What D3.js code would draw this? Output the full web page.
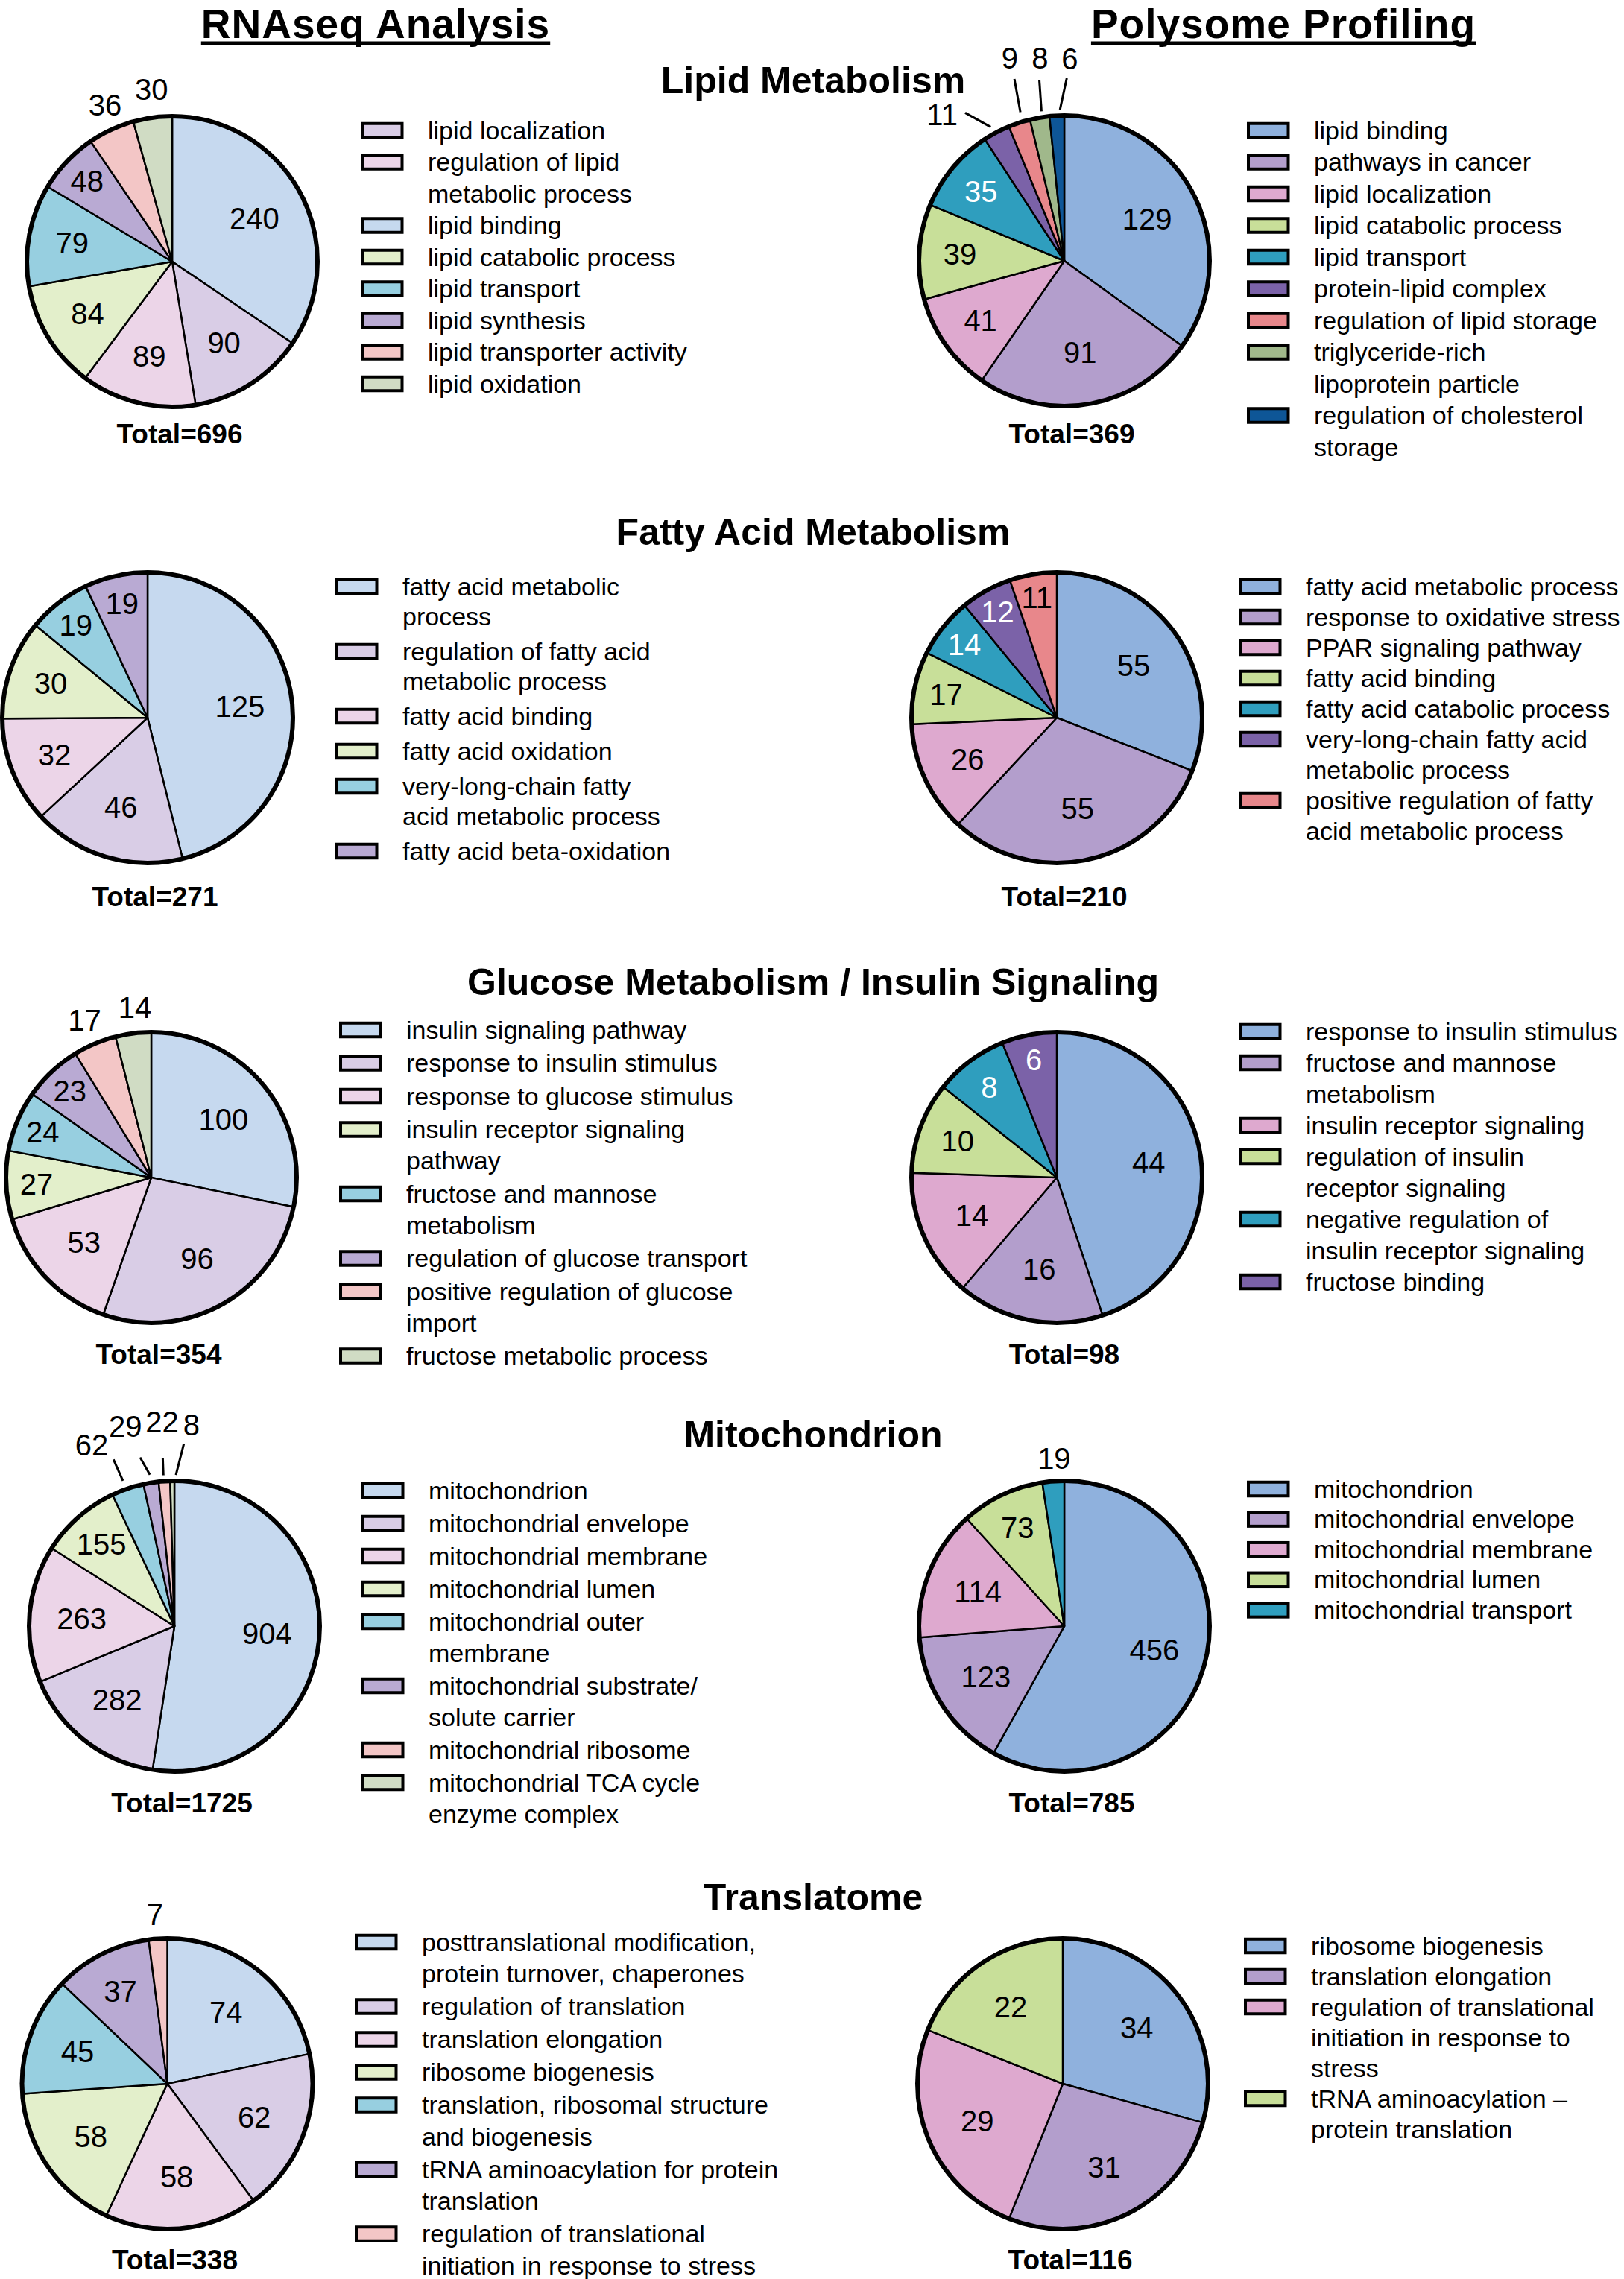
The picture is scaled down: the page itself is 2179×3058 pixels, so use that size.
<!DOCTYPE html>
<html>
<head>
<meta charset="utf-8">
<script src="https://cdn.jsdelivr.net/npm/d3@7"></script>
<style>
  body { margin: 0; background: #fff; }
  svg { display: block; font-family: "Liberation Sans", Arial, Helvetica, sans-serif; }
</style>
</head>
<body>
<svg id="chart" width="2179" height="3058"></svg>
<script>
// ---- data: slices listed clockwise from 12 o'clock ----
const columnTitles = ["RNAseq Analysis", "Polysome Profiling"];
const sectionTitles = ["Lipid Metabolism", "Fatty Acid Metabolism", "Glucose Metabolism / Insulin Signaling", "Mitochondrion", "Translatome"];
const rnaTotals = [696, 271, 354, 1725, 338];
const polyTotals = [369, 210, 98, 785, 116];

const lipidRnaNames = ["lipid binding", "lipid localization", "regulation of lipid\nmetabolic process", "lipid catabolic process", "lipid transport", "lipid synthesis", "lipid transporter activity", "lipid oxidation"];
const lipidRnaValues = [240, 90, 89, 84, 79, 48, 36, 30];
const lipidRnaLegend = ["lipid localization", "regulation of lipid\nmetabolic process", "lipid binding", "lipid catabolic process", "lipid transport", "lipid synthesis", "lipid transporter activity", "lipid oxidation"];

const lipidPolyNames = ["lipid binding", "pathways in cancer", "lipid localization", "lipid catabolic process", "lipid transport", "protein-lipid complex", "regulation of lipid storage", "triglyceride-rich\nlipoprotein particle", "regulation of cholesterol\nstorage"];
const lipidPolyValues = [129, 91, 41, 39, 35, 11, 9, 8, 6];

const fattyRnaNames = ["fatty acid metabolic\nprocess", "regulation of fatty acid\nmetabolic process", "fatty acid binding", "fatty acid oxidation", "very-long-chain fatty\nacid metabolic process", "fatty acid beta-oxidation"];
const fattyRnaValues = [125, 46, 32, 30, 19, 19];

const fattyPolyNames = ["fatty acid metabolic process", "response to oxidative stress", "PPAR signaling pathway", "fatty acid binding", "fatty acid catabolic process", "very-long-chain fatty acid\nmetabolic process", "positive regulation of fatty\nacid metabolic process"];
const fattyPolyValues = [65, 65, 26, 17, 14, 12, 11];            // slice sizes as drawn
const fattyPolyPrinted = ["55", "55", "26", "17", "14", "12", "11"]; // numbers as printed

const glucoseRnaNames = ["insulin signaling pathway", "response to insulin stimulus", "response to glucose stimulus", "insulin receptor signaling\npathway", "fructose and mannose\nmetabolism", "regulation of glucose transport", "positive regulation of glucose\nimport", "fructose metabolic process"];
const glucoseRnaValues = [100, 96, 53, 27, 24, 23, 17, 14];

const glucosePolyNames = ["response to insulin stimulus", "fructose and mannose\nmetabolism", "insulin receptor signaling", "regulation of insulin\nreceptor signaling", "negative regulation of\ninsulin receptor signaling", "fructose binding"];
const glucosePolyValues = [44, 16, 14, 10, 8, 6];

const mitoRnaNames = ["mitochondrion", "mitochondrial envelope", "mitochondrial membrane", "mitochondrial lumen", "mitochondrial outer\nmembrane", "mitochondrial substrate/\nsolute carrier", "mitochondrial ribosome", "mitochondrial TCA cycle\nenzyme complex"];
const mitoRnaValues = [904, 282, 263, 155, 62, 29, 22, 8];

const mitoPolyNames = ["mitochondrion", "mitochondrial envelope", "mitochondrial membrane", "mitochondrial lumen", "mitochondrial transport"];
const mitoPolyValues = [456, 123, 114, 73, 19];

const translRnaNames = ["posttranslational modification,\nprotein turnover, chaperones", "regulation of translation", "translation elongation", "ribosome biogenesis", "translation, ribosomal structure\nand biogenesis", "tRNA aminoacylation for protein\ntranslation", "regulation of translational\ninitiation in response to stress"];
const translRnaValues = [74, 62, 58, 58, 45, 37, 7];

const translPolyNames = ["ribosome biogenesis", "translation elongation", "regulation of translational\ninitiation in response to\nstress", "tRNA aminoacylation –\nprotein translation"];
const translPolyValues = [34, 31, 29, 22];

// ---- styling / layout ----
const rnaPalette = ["#c6d9ef", "#d9cde6", "#ecd5e8", "#e3efcb", "#97cfe0", "#b9aad3", "#f3c6c6", "#d0dcc4"];
const polyPalette = ["#8fb1dd", "#b39ecc", "#dea9cf", "#c8df99", "#2f9ebe", "#7b62a8", "#e8878b", "#a0b88b", "#0e5697"];
const darkFills = new Set(["#2f9ebe", "#7b62a8", "#0e5697"]);

const W = 2179, H = 3058, R = 195;
const rowY = [351, 963, 1580, 2182, 2796];
const titleY = [125, 731, 1335, 1942, 2563];

const panels = [
  { names: lipidRnaNames, values: lipidRnaValues, legend: lipidRnaLegend, total: rnaTotals[0], palette: rnaPalette,
    cx: 231, cy: rowY[0], legX: 484, legY: 175, lineH: 42.5, gap: 0, totalY: 595,
    outside: [{ i: 6, ta: 1.7, td: 34 }, { i: 7, ta: 0.9, td: 38 }] },
  { names: lipidPolyNames, values: lipidPolyValues, total: polyTotals[0], palette: polyPalette,
    cx: 1428, cy: 350, legX: 1673, legY: 175, lineH: 42.5, gap: 0, totalY: 595,
    outside: [
      { i: 5, ta: -12, td: 61, line: [-1, 10, -6, 44] },
      { i: 6, ta: 3, td: 87, line: [1.6, 13, 2.7, 58] },
      { i: 7, ta: 2.9, td: 79, line: [1.1, 8, 1.9, 50] },
      { i: 8, ta: 4.5, td: 77, line: [1.3, 8, 3.7, 50] }] },
  { names: fattyRnaNames, values: fattyRnaValues, total: rnaTotals[1], palette: rnaPalette,
    cx: 198, cy: rowY[1], legX: 450, legY: 787, lineH: 40, gap: 7, totalY: 1216, outside: [] },
  { names: fattyPolyNames, values: fattyPolyValues, printed: fattyPolyPrinted, total: polyTotals[1], palette: polyPalette,
    cx: 1418, cy: rowY[1], legX: 1662, legY: 787, lineH: 41, gap: 0, totalY: 1216, outside: [] },
  { names: glucoseRnaNames, values: glucoseRnaValues, total: rnaTotals[2], palette: rnaPalette,
    cx: 203, cy: rowY[2], legX: 455, legY: 1382, lineH: 42, gap: 2.5, totalY: 1830,
    outside: [{ i: 6, ta: 0, td: 35 }, { i: 7, ta: 1.6, td: 34 }] },
  { names: glucosePolyNames, values: glucosePolyValues, total: polyTotals[2], palette: polyPalette,
    cx: 1418, cy: rowY[2], legX: 1662, legY: 1384, lineH: 42, gap: 0, totalY: 1830, outside: [] },
  { names: mitoRnaNames, values: mitoRnaValues, total: rnaTotals[3], palette: rnaPalette,
    cx: 234, cy: rowY[3], legX: 485, legY: 2000, lineH: 42, gap: 2, totalY: 2432,
    outside: [
      { i: 4, ta: -5.7, td: 73, line: [-0.7, 12, -1.3, 43] },
      { i: 5, ta: -4.5, td: 81, line: [0.1, 11, -2.2, 36] },
      { i: 6, ta: 0.5, td: 80, line: [-0.2, 8, 0, 31] },
      { i: 7, ta: 5.7, td: 76, line: [1.4, 8, 3.8, 50] }] },
  { names: mitoPolyNames, values: mitoPolyValues, total: polyTotals[3], palette: polyPalette,
    cx: 1428, cy: rowY[3], legX: 1673, legY: 1998, lineH: 40.6, gap: 0, totalY: 2432,
    outside: [{ i: 4, ta: 0.9, td: 31 }] },
  { names: translRnaNames, values: translRnaValues, total: rnaTotals[4], palette: rnaPalette,
    cx: 224.5, cy: rowY[4], legX: 476, legY: 2606, lineH: 42.5, gap: 1.5, totalY: 3045,
    outside: [{ i: 6, ta: -0.5, td: 33 }] },
  { names: translPolyNames, values: translPolyValues, total: polyTotals[4], palette: polyPalette,
    cx: 1426, cy: rowY[4], legX: 1669, legY: 2611, lineH: 41, gap: 0, totalY: 3045, outside: [] }
];

const svg = d3.select("#chart");
svg.append("rect").attr("width", W).attr("height", H).attr("fill", "#fff");

// column headers, underlined
[[columnTitles[0], 504], [columnTitles[1], 1722]].forEach(([t, x]) => {
  const txt = svg.append("text")
    .attr("x", x).attr("y", 51)
    .attr("text-anchor", "middle")
    .style("font-size", "55px").style("font-weight", "bold")
    .style("letter-spacing", "1px")
    .text(t);
  const w = txt.node().getComputedTextLength();
  svg.append("line")
    .attr("x1", x - w / 2).attr("x2", x + w / 2)
    .attr("y1", 58).attr("y2", 58)
    .attr("stroke", "#000").attr("stroke-width", 5);
});

// section titles
svg.selectAll("text.section")
  .data(sectionTitles)
  .join("text")
  .attr("class", "section")
  .attr("x", 1091)
  .attr("y", (d, i) => titleY[i])
  .attr("text-anchor", "middle")
  .style("font-size", "50px").style("font-weight", "bold")
  .text(d => d);

const pie = d3.pie().sort(null).value(d => d.value);
const arc = d3.arc().innerRadius(0).outerRadius(R);
const rad = deg => deg * Math.PI / 180;
const pt = (a, d) => [d * Math.sin(a), -d * Math.cos(a)];

function drawPanel(p) {
  const g = svg.append("g").attr("transform", `translate(${p.cx},${p.cy})`);
  const data = p.names.map((n, i) => ({
    name: n,
    value: p.values[i],
    text: p.printed ? p.printed[i] : String(p.values[i])
  }));
  const color = d3.scaleOrdinal(p.names, p.palette);
  const arcs = pie(data);

  g.selectAll("path.slice")
    .data(arcs)
    .join("path")
    .attr("class", "slice")
    .attr("d", arc)
    .attr("fill", d => color(d.data.name))
    .attr("stroke", "#000")
    .attr("stroke-width", 2.5)
    .attr("stroke-linejoin", "round");

  g.append("circle")
    .attr("r", R)
    .attr("fill", "none")
    .attr("stroke", "#000")
    .attr("stroke-width", 6);

  const outsideIdx = new Set(p.outside.map(o => o.i));

  // values inside the slices; narrow slices get pushed outward
  g.selectAll("text.val")
    .data(arcs.filter((d, i) => !outsideIdx.has(i)))
    .join("text")
    .attr("class", "val")
    .attr("transform", d => {
      const span = (d.endAngle - d.startAngle) * 180 / Math.PI;
      const k = 0.64 + 0.2 * Math.max(0, Math.min(1, (50 - span) / 30));
      const c = d3.arc().innerRadius(k * R).outerRadius(k * R).centroid(d);
      return `translate(${c})`;
    })
    .attr("text-anchor", "middle")
    .attr("dy", "0.36em")
    .attr("fill", d => darkFills.has(color(d.data.name)) ? "#fff" : "#000")
    .style("font-size", "40px")
    .text(d => d.data.text);

  // values outside the pie, with optional leader lines
  p.outside.forEach(o => {
    const d = arcs[o.i];
    const mid = (d.startAngle + d.endAngle) / 2;
    if (o.line) {
      const a = pt(mid + rad(o.line[0]), R + o.line[1]);
      const b = pt(mid + rad(o.line[2]), R + o.line[3]);
      g.append("line")
        .attr("x1", a[0]).attr("y1", a[1])
        .attr("x2", b[0]).attr("y2", b[1])
        .attr("stroke", "#000").attr("stroke-width", 3);
    }
    const c = pt(mid + rad(o.ta), R + o.td);
    g.append("text")
      .attr("x", c[0]).attr("y", c[1])
      .attr("dy", "0.36em")
      .attr("text-anchor", "middle")
      .style("font-size", "40px")
      .text(d.data.text);
  });

  // total under the pie
  svg.append("text")
    .attr("x", p.cx + 10).attr("y", p.totalY)
    .attr("text-anchor", "middle")
    .style("font-size", "37px").style("font-weight", "bold")
    .text(`Total=${p.total}`);

  // legend
  let y = p.legY;
  (p.legend || p.names).forEach(name => {
    const lines = name.split("\n");
    svg.append("rect")
      .attr("x", p.legX + 2).attr("y", y - 9.25)
      .attr("width", 53.5).attr("height", 18.5)
      .attr("fill", color(name))
      .attr("stroke", "#000").attr("stroke-width", 4);
    const t = svg.append("text")
      .attr("x", p.legX + 90).attr("y", y + 11.5)
      .style("font-size", "34px");
    lines.forEach((ln, j) => {
      t.append("tspan")
        .attr("x", p.legX + 90)
        .attr("y", y + 11.5 + j * p.lineH)
        .text(ln);
    });
    y += lines.length * p.lineH + p.gap;
  });
}

panels.forEach(drawPanel);
</script>
</body>
</html>
